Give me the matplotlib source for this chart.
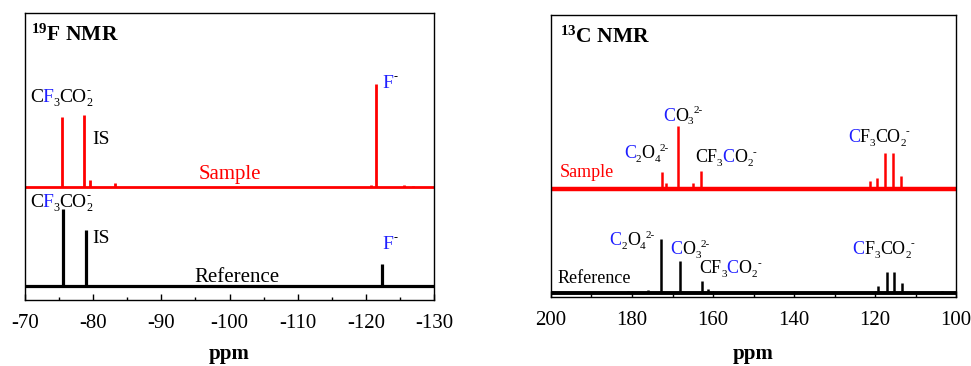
import numpy as np
import matplotlib
matplotlib.use('Agg')
import matplotlib.pyplot as plt
import matplotlib.transforms as mtransforms
from matplotlib.ticker import MultipleLocator

plt.rcParams['font.family'] = ['Liberation Serif', 'DejaVu Serif']
plt.rcParams['mathtext.fontset'] = 'custom'
plt.rcParams['mathtext.rm'] = 'Liberation Serif'
plt.rcParams['mathtext.it'] = 'Liberation Serif:italic'
plt.rcParams['mathtext.bf'] = 'Liberation Serif:bold'

# 19F NMR : peak positions (ppm) and heights above the baseline (a.u.)
f_sample_base = 39.4
f_sample_ppm = [-75.5, -78.7, -79.6, -83.2, -120.7, -121.5, -125.6, -126.9]
f_sample_int = [24.4, 25.1, 2.4, 1.4, 0.8, 35.9, 0.5, 0.4]
f_ref_base = 4.9
f_ref_ppm = [-75.6, -78.9, -122.3]
f_ref_int = [26.8, 19.5, 7.7]
f_ticks = [-70, -80, -90, -100, -110, -120, -130]

# 13C NMR
c_sample_base = 38.3
c_sample_ppm = [172.7, 171.5, 168.6, 164.9, 163.0, 121.2, 119.4, 117.5, 115.5, 113.6]
c_sample_int = [6.0, 2.1, 22.3, 2.1, 6.4, 2.8, 3.9, 12.8, 12.8, 4.6]
c_ref_base = 1.3
c_ref_ppm = [181.0, 176.1, 172.8, 168.1, 162.8, 161.2, 119.2, 117.1, 115.2, 113.3, 103.5]
c_ref_int = [0.7, 1.1, 19.1, 11.3, 4.5, 1.4, 2.5, 7.4, 7.4, 3.5, 0.8]
c_ticks = [200, 180, 160, 140, 120, 100]

BLUE = '#1f1fff'


def formula(ax, x, y, parts, size):
    # draw a chemical formula piece by piece so that single letters can be coloured
    fig = ax.figure
    r = fig.canvas.get_renderer()
    dx = 0.0
    last_w = 0.0
    for s, c, kind in parts:
        fs = size if kind == 'n' else size * 0.62
        dy = {'n': 0, 'sub': -0.2 * size, 'sup': 0.42 * size, 'stack': 0.42 * size}[kind]
        x0 = dx - last_w if kind == 'stack' else dx
        tr = mtransforms.offset_copy(ax.transData, fig=fig, x=x0, y=dy, units='points')
        t = ax.text(x, y, s, color=c, fontsize=fs, transform=tr, ha='left', va='baseline')
        w = t.get_window_extent(r).width * 72 / fig.dpi
        if kind != 'stack':
            dx += w
            last_w = w


fig = plt.figure(figsize=(9.71, 3.66), dpi=100)
ax1 = fig.add_axes([25 / 971, 66 / 366, 409 / 971, 287 / 366])
ax2 = fig.add_axes([551 / 971, 69 / 366, 405 / 971, 282 / 366])

# ---- 19F
ax1.axhline(f_sample_base, color='red', lw=2)
ax1.vlines(f_sample_ppm, f_sample_base, np.array(f_sample_int) + f_sample_base, color='red', lw=2)
ax1.axhline(f_ref_base, color='black', lw=2.3)
ax1.vlines(f_ref_ppm, f_ref_base, np.array(f_ref_int) + f_ref_base, color='black', lw=2.3)
ax1.set_xlim(-70, -130)
ax1.set_ylim(0, 100)
ax1.set_xticks(f_ticks)
ax1.set_xticklabels([str(t) for t in f_ticks])
ax1.xaxis.set_minor_locator(MultipleLocator(5))

ax1.text(-70.9, 90.2, r'$^{\mathbf{19}}$F NMR', fontsize=15.5, fontweight='bold', va='baseline')
cf3_f = [('C', 'black', 'n'), ('F', BLUE, 'n'), ('3', 'black', 'sub'), ('CO', 'black', 'n'),
         ('2', 'black', 'sub'), ('-', 'black', 'stack')]
formula(ax1, -70.7, 69.0, cf3_f, 14)
ax1.text(-79.8, 54.4, 'IS', fontsize=14, va='baseline')
ax1.text(-95.4, 42.2, 'Sample', fontsize=15, color='red', va='baseline')
formula(ax1, -122.5, 73.9, [('F', BLUE, 'n'), ('-', 'black', 'sup')], 14)
formula(ax1, -70.7, 32.4, cf3_f, 14)
ax1.text(-79.8, 19.8, 'IS', fontsize=14, va='baseline')
formula(ax1, -122.5, 17.8, [('F', BLUE, 'n'), ('-', 'black', 'sup')], 14)
ax1.text(-94.8, 6.4, 'Reference', fontsize=15, va='baseline')
ax1.set_xlabel('ppm', fontsize=15, fontweight='bold', va='baseline')
ax1.xaxis.set_label_coords(0.5, -59 / 287)

# ---- 13C
ax2.axhline(c_sample_base, color='red', lw=3.2)
ax2.vlines(c_sample_ppm, c_sample_base, np.array(c_sample_int) + c_sample_base, color='red', lw=1.8)
ax2.axhline(c_ref_base, color='black', lw=2.8)
ax2.vlines(c_ref_ppm, c_ref_base, np.array(c_ref_int) + c_ref_base, color='black', lw=1.8)
ax2.set_xlim(200, 100)
ax2.set_ylim(0, 100)
ax2.set_xticks(c_ticks)
ax2.set_xticklabels([str(t) for t in c_ticks])
ax2.xaxis.set_minor_locator(MultipleLocator(10))

ax2.text(197.8, 90.0, r'$^{\mathbf{13}}$C NMR', fontsize=15.5, fontweight='bold', va='baseline')
c2o4 = [('C', BLUE, 'n'), ('2', 'black', 'sub'), ('O', 'black', 'n'), ('4', 'black', 'sub'),
        ('2-', 'black', 'sup')]
co3 = [('C', BLUE, 'n'), ('O', 'black', 'n'), ('3', 'black', 'sub'), ('2-', 'black', 'sup')]
cf3_c2 = [('CF', 'black', 'n'), ('3', 'black', 'sub'), ('C', BLUE, 'n'), ('O', 'black', 'n'),
          ('2', 'black', 'sub'), ('-', 'black', 'sup')]
cf3_c1 = [('C', BLUE, 'n'), ('F', 'black', 'n'), ('3', 'black', 'sub'), ('CO', 'black', 'n'),
          ('2', 'black', 'sub'), ('-', 'black', 'sup')]
ax2.text(197.9, 42.7, 'Sample', fontsize=13, color='red', va='baseline')
formula(ax2, 182.0, 49.2, c2o4, 13)
formula(ax2, 172.4, 62.5, co3, 13)
formula(ax2, 164.5, 47.8, cf3_c2, 13)
formula(ax2, 126.7, 54.9, cf3_c1, 13)
ax2.text(198.3, 5.1, 'Reference', fontsize=13, va='baseline')
formula(ax2, 185.6, 18.3, c2o4, 13)
formula(ax2, 170.6, 15.2, co3, 13)
formula(ax2, 163.4, 8.4, cf3_c2, 13)
formula(ax2, 125.5, 15.2, cf3_c1, 13)
ax2.set_xlabel('ppm', fontsize=15, fontweight='bold', va='baseline')
ax2.xaxis.set_label_coords(0.5, -62 / 282)

for ax in (ax1, ax2):
    ax.set_yticks([])
    ax.tick_params(axis='x', which='major', direction='in', length=4, width=1, labelsize=15, pad=10)
    ax.tick_params(axis='x', which='minor', direction='in', length=2.5, width=1)
    for sp in ax.spines.values():
        sp.set_linewidth(1)

fig.savefig('out.png', dpi=100)
